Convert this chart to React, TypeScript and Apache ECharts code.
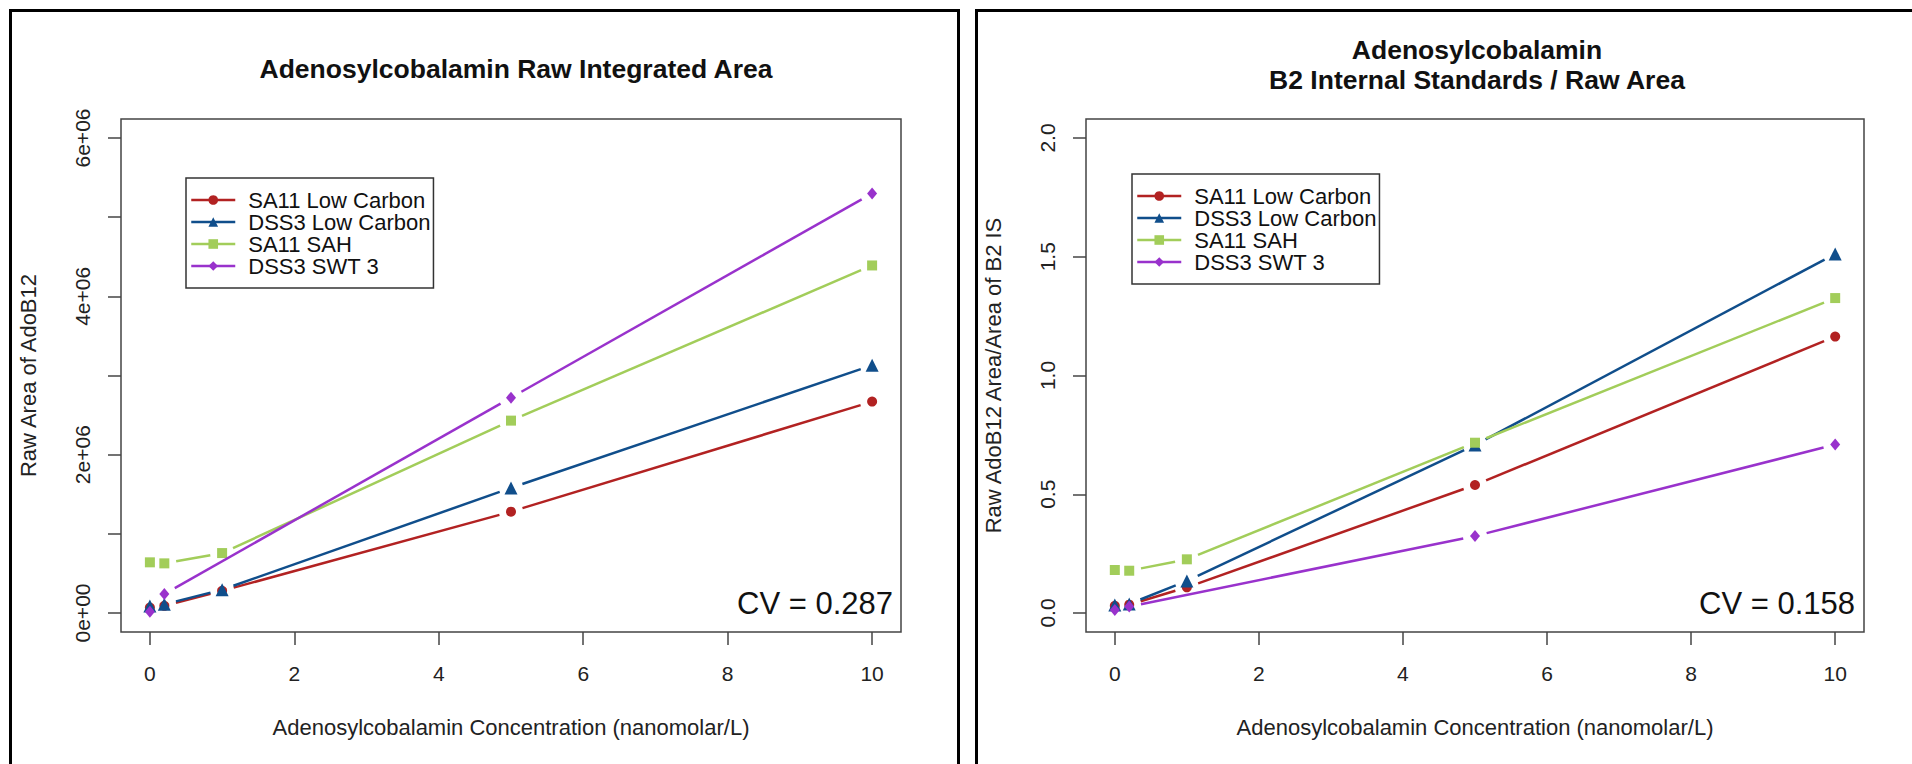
import React, { useEffect, useRef } from 'react';
import * as echarts from 'echarts';

// ---------- data ----------
const seriesNames = ['SA11 Low Carbon', 'DSS3 Low Carbon', 'SA11 SAH', 'DSS3 SWT 3'];
const seriesColors = ['#B22222', '#104E8B', '#A2CD5A', '#9932CC'];
const seriesSymbols = ['circle', 'triangle', 'rect', 'diamond'];

const concentrations = [0, 0.2, 1, 5, 10];
const concentrationsSWT = [0, 0.2, 5, 10];

// left panel: raw integrated area
const rawSA11Low = [70000, 90000, 280000, 1280000, 2670000];
const rawDSS3Low = [90000, 110000, 294000, 1580000, 3130000];
const rawSA11SAH = [640000, 627000, 757000, 2430000, 4390000];
const rawDSS3SWT = [17000, 240000, 2720000, 5300000];

// right panel: area / B2 internal standard
const isSA11Low = [0.03, 0.035, 0.108, 0.539, 1.164];
const isDSS3Low = [0.034, 0.038, 0.135, 0.707, 1.512];
const isSA11SAH = [0.181, 0.178, 0.226, 0.717, 1.326];
const isDSS3SWT = [0.013, 0.027, 0.324, 0.709];

const xTicks = [0, 2, 4, 6, 8, 10];
const yTicksLeft = [0, 1000000, 2000000, 3000000, 4000000, 5000000, 6000000];
const yLabelValuesLeft = [0, 2000000, 4000000, 6000000];
const yLabelTextsLeft = ['0e+00', '2e+06', '4e+06', '6e+06'];
const yTicksRight = [0, 0.5, 1, 1.5, 2];
const yLabelTextsRight = ['0.0', '0.5', '1.0', '1.5', '2.0'];

const leftTitle = 'Adenosylcobalamin Raw Integrated Area';
const rightTitle = 'Adenosylcobalamin\nB2 Internal Standards / Raw Area';
const xAxisName = 'Adenosylcobalamin Concentration (nanomolar/L)';
const leftYName = 'Raw Area of AdoB12';
const rightYName = 'Raw AdoB12 Area/Area of B2 IS';
const leftCV = 'CV = 0.287';
const rightCV = 'CV = 0.158';

// ---------- helpers ----------
const FONT = '"Liberation Sans", Arial, Helvetica, sans-serif';
const GAP = 12;
const symbolSizes: any[] = [10, 13, 10, [10, 12]];

function zip(xs: number[], ys: number[]) {
  return xs.map((x, i) => [x, ys[i]]);
}
function segs(pts: number[][]) {
  const out: number[][] = [];
  for (let i = 0; i < pts.length - 1; i++) out.push([pts[i][0], pts[i][1], pts[i + 1][0], pts[i + 1][1]]);
  return out;
}
function segRenderer(color: string) {
  return (params: any, api: any) => {
    const p1 = api.coord([api.value(0), api.value(1)]);
    const p2 = api.coord([api.value(2), api.value(3)]);
    const dx = p2[0] - p1[0];
    const dy = p2[1] - p1[1];
    const d = Math.hypot(dx, dy);
    if (d <= 2 * GAP) return { type: 'group', children: [] };
    const ux = dx / d;
    const uy = dy / d;
    return {
      type: 'line',
      shape: { x1: p1[0] + ux * GAP, y1: p1[1] + uy * GAP, x2: p2[0] - ux * GAP, y2: p2[1] - uy * GAP },
      style: { stroke: color, lineWidth: 2.5 },
    };
  };
}

function buildSeries(panel: number, datasets: number[][][]) {
  const out: any[] = [];
  datasets.forEach((pts, i) => {
    out.push({
      type: 'custom',
      name: seriesNames[i] + ' segments ' + panel,
      xAxisIndex: panel,
      yAxisIndex: panel,
      data: segs(pts),
      dimensions: ['x1', 'y1', 'x2', 'y2'],
      encode: { x: [0, 2], y: [1, 3] },
      renderItem: segRenderer(seriesColors[i]),
      silent: true,
      z: 2 + i * 2,
    });
    out.push({
      type: 'line',
      name: seriesNames[i],
      xAxisIndex: panel,
      yAxisIndex: panel,
      data: pts,
      symbol: seriesSymbols[i],
      symbolSize: symbolSizes[i],
      showSymbol: true,
      itemStyle: { color: seriesColors[i] },
      lineStyle: { color: seriesColors[i], width: 2.5, opacity: 0 },
      silent: true,
      emphasis: { disabled: true },
      z: 3 + i * 2,
    });
  });
  return out;
}

const tickStyle = { color: '#444', width: 1.5 };

function xAxisOpt(gridIndex: number) {
  return {
    gridIndex,
    type: 'value',
    min: -0.4,
    max: 10.4,
    splitLine: { show: false },
    axisLine: { show: false, onZero: false },
    axisTick: { show: true, inside: false, length: 13, lineStyle: tickStyle, customValues: xTicks },
    axisLabel: { customValues: xTicks, margin: 31, fontSize: 21, color: '#222', fontFamily: FONT },
    name: xAxisName,
    nameLocation: 'middle',
    nameGap: 84,
    nameTextStyle: { fontSize: 22, color: '#222', fontFamily: FONT },
  };
}

function yAxisOpt(gridIndex: number, min: number, max: number, ticks: number[], labelValues: number[], labelTexts: string[], name: string) {
  return {
    gridIndex,
    type: 'value',
    min,
    max,
    splitLine: { show: false },
    axisLine: { show: false, onZero: false },
    axisTick: { show: true, inside: false, length: 13, lineStyle: tickStyle, customValues: ticks },
    axisLabel: {
      customValues: labelValues,
      rotate: 90,
      margin: 28,
      fontSize: 21,
      color: '#222',
      fontFamily: FONT,
      formatter: (v: number) => {
        const k = labelValues.indexOf(v);
        return k >= 0 ? labelTexts[k] : '';
      },
    },
    name,
    nameLocation: 'middle',
    nameGap: 82,
    nameTextStyle: { fontSize: 22, color: '#222', fontFamily: FONT },
  };
}

const legendBase = {
  data: seriesNames,
  orient: 'vertical',
  itemWidth: 44,
  itemHeight: 12,
  itemGap: 0,
  padding: [11, 3, 11, 4],
  borderColor: '#333',
  borderWidth: 1.5,
  backgroundColor: '#fff',
  selectedMode: false,
  lineStyle: { opacity: 1, width: 2.5 },
  textStyle: { fontSize: 22, lineHeight: 22, color: '#111', fontFamily: FONT, padding: [0, 0, 0, 8] },
};

export default function App() {
  const ref = useRef<HTMLDivElement>(null);
  useEffect(() => {
    if (!ref.current) return;
    const chart = echarts.init(ref.current, undefined, { renderer: 'svg' });
    const leftData = [
      zip(concentrations, rawSA11Low),
      zip(concentrations, rawDSS3Low),
      zip(concentrations, rawSA11SAH),
      zip(concentrationsSWT, rawDSS3SWT),
    ];
    const rightData = [
      zip(concentrations, isSA11Low),
      zip(concentrations, isDSS3Low),
      zip(concentrations, isSA11SAH),
      zip(concentrationsSWT, isDSS3SWT),
    ];
    chart.setOption({
      animation: false,
      backgroundColor: '#fff',
      title: [
        {
          text: leftTitle,
          left: 511,
          top: 50,
          textAlign: 'center',
          textStyle: { fontSize: 26.5, fontWeight: 'bold', color: '#111', fontFamily: FONT },
        },
        {
          text: rightTitle,
          left: 1472,
          top: 30,
          textAlign: 'center',
          textStyle: { fontSize: 26.5, fontWeight: 'bold', color: '#111', fontFamily: FONT, lineHeight: 30 },
        },
      ],
      legend: [
        { ...legendBase, left: 186, top: 178 },
        { ...legendBase, left: 1132, top: 174 },
      ],
      grid: [
        { left: 121, top: 119, width: 780, height: 513, show: true, borderColor: '#444', borderWidth: 1.5, backgroundColor: 'transparent' },
        { left: 1086, top: 119, width: 778, height: 513, show: true, borderColor: '#444', borderWidth: 1.5, backgroundColor: 'transparent' },
      ],
      xAxis: [xAxisOpt(0), xAxisOpt(1)],
      yAxis: [
        yAxisOpt(0, -240000, 6240000, yTicksLeft, yLabelValuesLeft, yLabelTextsLeft, leftYName),
        yAxisOpt(1, -0.08, 2.08, yTicksRight, yTicksRight, yLabelTextsRight, rightYName),
      ],
      series: [...buildSeries(0, leftData), ...buildSeries(1, rightData)],
      graphic: [
        {
          type: 'polyline',
          shape: { points: [[10.5, 770], [10.5, 10.5], [958.5, 10.5], [958.5, 770]] },
          style: { stroke: '#000', lineWidth: 3, fill: null },
          silent: true,
        },
        {
          type: 'polyline',
          shape: { points: [[976.5, 770], [976.5, 10.5], [1920, 10.5]] },
          style: { stroke: '#000', lineWidth: 3, fill: null },
          silent: true,
        },
        {
          type: 'text',
          x: 893,
          y: 603,
          style: { text: leftCV, align: 'right', verticalAlign: 'middle', fontSize: 31, fill: '#111', fontFamily: FONT },
          silent: true,
        },
        {
          type: 'text',
          x: 1855,
          y: 603,
          style: { text: rightCV, align: 'right', verticalAlign: 'middle', fontSize: 31, fill: '#111', fontFamily: FONT },
          silent: true,
        },
      ],
    });
    return () => chart.dispose();
  }, []);
  return <div ref={ref} style={{ position: 'fixed', left: 0, top: 0, width: 1912, height: 764, background: '#fff' }} />;
}
